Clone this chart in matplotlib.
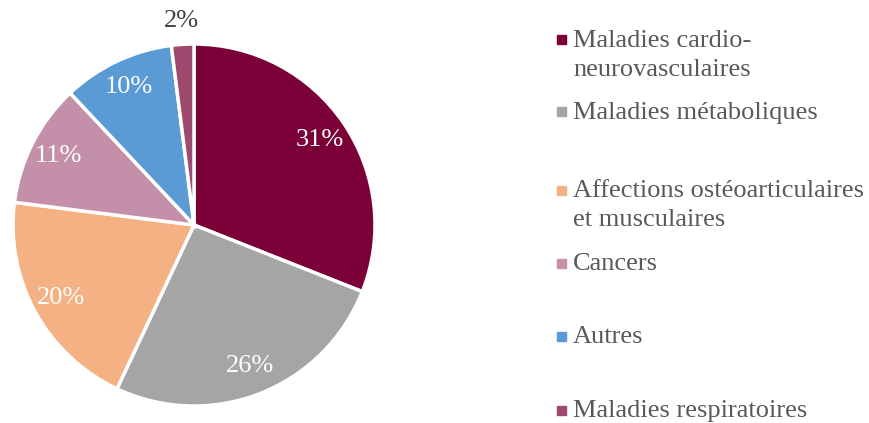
import numpy as np
import matplotlib.pyplot as plt
from matplotlib.patches import Rectangle

labels = ['Maladies cardio-\nneurovasculaires', 'Maladies métaboliques',
          'Affections ostéoarticulaires\net musculaires', 'Cancers', 'Autres',
          'Maladies respiratoires']
values = [31, 26, 20, 11, 10, 2]
colors = ['#7B0037', '#A5A5A5', '#F4B183', '#C490A9', '#5B9BD5', '#9E4A6E']
legend_y = [40, 112, 190, 263, 336, 410]  # pixel rows of the legend markers

plt.rcParams['font.family'] = ['Liberation Serif', 'DejaVu Serif']

W, H = 870, 423
fig = plt.figure(figsize=(W / 100, H / 100), dpi=100)

cx, cy, r = 194, 225, 181
ax = fig.add_axes([(cx - r) / W, (H - cy - r) / H, 2 * r / W, 2 * r / H])
wedges, texts, autotexts = ax.pie(values, colors=colors, startangle=90, counterclock=False,
                                  autopct='%d%%', pctdistance=0.84,
                                  wedgeprops=dict(edgecolor='white', linewidth=2.5),
                                  textprops=dict(color='white', fontsize=19))
ax.set_xlim(-1, 1)
ax.set_ylim(-1, 1)
ax.set_aspect('equal')

# small slice label goes outside
w = wedges[-1]
ang = np.deg2rad((w.theta1 + w.theta2) / 2)
autotexts[-1].set_position((1.13 * np.cos(ang), 1.13 * np.sin(ang)))
autotexts[-1].set_color('#404040')

for lab, col, y in zip(labels, colors, legend_y):
    s = 9
    fig.patches.append(Rectangle((557 / W, (H - y - s / 2) / H), s / W, s / H,
                                 transform=fig.transFigure, color=col, figure=fig))
    for i, line in enumerate(lab.split('\n')):
        fig.text(573 / W, (H - y - 7 - 29 * i) / H, line, color='#595959', fontsize=19,
                 va='baseline', ha='left')

fig.savefig('out.png', dpi=100)
